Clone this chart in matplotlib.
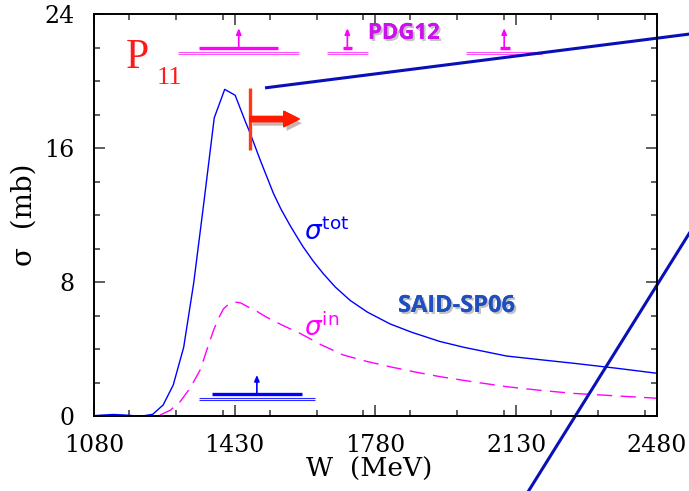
import matplotlib
matplotlib.use('Agg')
import matplotlib.pyplot as plt
import matplotlib.patheffects as pe
from matplotlib.ticker import MultipleLocator

# P11 partial-wave cross sections from SAID-SP06, W in MeV, sigma in mb
w_tot = [1080, 1105, 1128, 1155, 1178, 1200, 1226, 1252, 1277, 1303, 1328,
         1354, 1379, 1405, 1431, 1456, 1468, 1493, 1526, 1545, 1567, 1582,
         1600, 1625, 1650, 1680, 1717, 1760, 1816, 1870, 1940, 2000, 2106,
         2190, 2272, 2380, 2480]
sig_tot = [0.02, 0.06, 0.09, 0.06, 0.02, 0.0, 0.1, 0.66, 1.85, 4.1, 7.95,
           12.9, 17.8, 19.5, 19.15, 17.6, 16.9, 15.3, 13.3, 12.35, 11.4, 10.8,
           10.1, 9.25, 8.5, 7.7, 6.9, 6.2, 5.5, 5.0, 4.45, 4.1, 3.58,
           3.36, 3.15, 2.85, 2.55]

w_in = [1244, 1270, 1294, 1320, 1344, 1360, 1377, 1390, 1402, 1416, 1431,
        1445, 1460, 1485, 1509, 1550, 1592, 1645, 1700, 1760, 1816, 1880,
        1940, 2020, 2106, 2190, 2272, 2380, 2480]
sig_in = [0.05, 0.35, 0.85, 1.7, 2.75, 3.9, 5.1, 5.85, 6.4, 6.7, 6.8,
          6.75, 6.55, 6.25, 5.9, 5.4, 4.94, 4.25, 3.64, 3.25, 2.94, 2.62,
          2.35, 2.05, 1.75, 1.53, 1.35, 1.2, 1.06]

# PDG12 P11 states: mass, width range, mass band
pdg_mass = [1440, 1710, 2100]
pdg_lo = [1289, 1659, 2005]
pdg_hi = [1590, 1761, 2195]
pdg_band_lo = [1342, 1699, 2090]
pdg_band_hi = [1538, 1722, 2114]

# SAID-SP06 pole
said_mass = [1485]
said_lo = [1342]
said_hi = [1629]
said_band_lo = [1374]
said_band_hi = [1597]

x_ticks = [1080, 1430, 1780, 2130, 2480]
y_ticks = [0, 8, 16, 24]

fig = plt.figure(figsize=(6.89, 4.91), dpi=100)
ax = fig.add_axes([94 / 689, 75 / 491, 563 / 689, 402 / 491])

ax.plot(w_tot, sig_tot, color='#0000ff', lw=1.0)
ax.plot(w_in, sig_in, color='#ff00ff', lw=1.0, linestyle=(0, (11, 6)))


def resonances(mass, lo, hi, blo, bhi, y, top, color, thin_color):
    for m, a, b, c, d in zip(mass, lo, hi, blo, bhi):
        ax.plot([a, b], [y - 0.24, y - 0.24], color=thin_color, lw=0.8,
                solid_capstyle='butt')
        ax.plot([a, b], [y - 0.36, y - 0.36], color=thin_color, lw=0.8,
                solid_capstyle='butt')
        ax.plot([c, d], [y, y], color=color, lw=2.4, solid_capstyle='butt')
        ax.annotate('', xy=(m, top), xytext=(m, y),
                    arrowprops=dict(arrowstyle='-|>,head_length=0.35,head_width=0.15',
                                    color=color, lw=1.2, shrinkA=0, shrinkB=0))


resonances(pdg_mass, pdg_lo, pdg_hi, pdg_band_lo, pdg_band_hi,
           22.0, 23.15, '#ff00ff', '#ff55ff')
resonances(said_mass, said_lo, said_hi, said_band_lo, said_band_hi,
           1.3, 2.45, '#0000ff', '#2a2aff')

ax.set_xlim(1080, 2480)
ax.set_ylim(0, 24)
ax.set_xticks(x_ticks)
ax.set_yticks(y_ticks)
ax.xaxis.set_minor_locator(MultipleLocator(350 / 3))
ax.yaxis.set_minor_locator(MultipleLocator(2))
ax.tick_params(which='both', direction='in', top=True, right=True,
               width=1.1, color='#333333')
ax.tick_params(which='major', length=8)
ax.tick_params(which='minor', length=4)
ax.tick_params(axis='x', pad=13)
ax.tick_params(axis='y', pad=14)
for lab in ax.get_xticklabels() + ax.get_yticklabels():
    lab.set_family('DejaVu Serif')
    lab.set_fontsize(17)
for sp in ax.spines.values():
    sp.set_linewidth(1.4)

ax.set_xlabel('W  (MeV)', family='DejaVu Serif', fontsize=19)
ax.set_ylabel('σ  (mb)', family='DejaVu Serif', fontsize=20)
ax.xaxis.set_label_coords(0.488, -0.103)
ax.yaxis.set_label_coords(-0.1, 0.5)

# labels on the curves
ax.text(1602, 10.5, r'$\sigma^{\rm tot}$', color='#0000ff', fontsize=19)
ax.text(1602, 4.75, r'$\sigma^{\rm in}$', color='#ff00ff', fontsize=19)
shadow = [pe.withSimplePatchShadow(offset=(1.5, -1.5), shadow_rgbFace='#555555',
                                   alpha=0.35), pe.Normal()]
ax.text(1836, 6.57, 'SAID-SP06', color='#1f4fbf', fontsize=17,
        family='Open Sans', weight='bold', va='center', path_effects=shadow)
ax.text(1761, 22.84, 'PDG12', color='#cc11ee', fontsize=16,
        family='Open Sans', weight='bold', va='center', path_effects=shadow)
ax.text(1160, 20.75, 'P', color='#ff1a1a', fontsize=30, family='Liberation Serif')
ax.text(1236, 19.85, '11', color='#ff1a1a', fontsize=19, family='Liberation Serif')

# red threshold marker with arrow
ax.plot([1468, 1468], [15.9, 19.6], color='#ff3a10', lw=2.4, solid_capstyle='butt')
ax.annotate('', xy=(1590, 17.73), xytext=(1468, 17.73),
            arrowprops=dict(arrowstyle='simple,head_length=1.1,head_width=1.1,tail_width=0.36',
                            color='#ff1a00', mutation_scale=10, shrinkA=0, shrinkB=0,
                            path_effects=[pe.withSimplePatchShadow(offset=(2, -3), alpha=0.3),
                                          pe.Normal()]))

# zoom guide lines running off the frame
ax.plot([1509, 2560], [19.6, 22.8], color='#0a10b8', lw=2.2, clip_on=False)
ax.plot([2560, 2160], [10.9, -4.5], color='#0a10b8', lw=2.2, clip_on=False)

fig.savefig('out.png', dpi=100)
